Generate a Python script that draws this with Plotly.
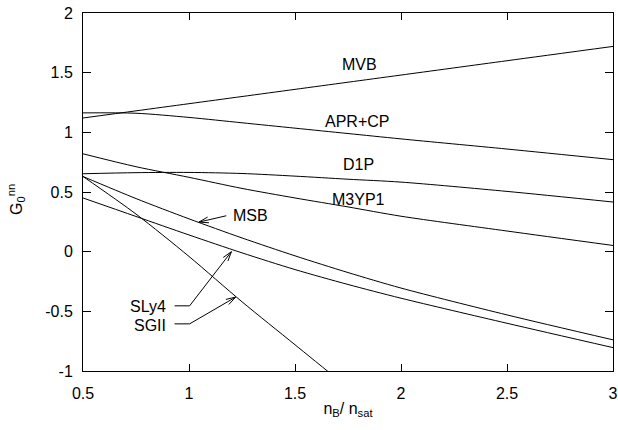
import math
import plotly.graph_objects as go

# ---------------- data ----------------
x_grid = [0.5, 0.75, 1.0, 1.25, 1.5, 1.75, 2.0, 2.5, 3.0]
mvb = [1.12, 1.18, 1.24, 1.30, 1.36, 1.42, 1.48, 1.60, 1.72]
apr_cp = [1.163, 1.16, 1.125, 1.08, 1.035, 0.99, 0.945, 0.86, 0.771]
d1p = [0.653, 0.662, 0.664, 0.655, 0.633, 0.607, 0.583, 0.505, 0.416]
m3yp1 = [0.82, 0.712, 0.623, 0.53, 0.45, 0.375, 0.297, 0.173, 0.052]
msb = [0.63, 0.445, 0.275, 0.115, -0.035, -0.175, -0.305, -0.53, -0.739]
sly4 = [0.45, 0.295, 0.14, -0.01, -0.15, -0.275, -0.39, -0.60, -0.804]
x_sgii = [0.5, 0.75, 1.0, 1.25, 1.5, 1.75]
sgii = [0.63, 0.315, -0.04, -0.42, -0.78, -1.14]

x_ticks = [0.5, 1, 1.5, 2, 2.5, 3]
x_tick_text = ["0.5", "1", "1.5", "2", "2.5", "3"]
y_ticks = [-1, -0.5, 0, 0.5, 1, 1.5, 2]
y_tick_text = ["-1", "-0.5", "0", "0.5", "1", "1.5", "2"]

# ---------------- layout geometry ----------------
W, H = 618, 430
ML, MR, MT, MB = 83, 5, 13, 59
XR = [0.5, 3.0]
YR = [-1.0, 2.0]
px_per_x = (W - ML - MR) / (XR[1] - XR[0])
px_per_y = (H - MT - MB) / (YR[1] - YR[0])

FONT = "Liberation Sans, Arial, sans-serif"
FS = 16

fig = go.Figure()
series = [
    (x_grid, mvb), (x_grid, apr_cp), (x_grid, d1p), (x_grid, m3yp1),
    (x_grid, msb), (x_grid, sly4), (x_sgii, sgii),
]
for xs, ys in series:
    fig.add_trace(go.Scatter(
        x=xs, y=ys, mode="lines",
        line=dict(color="black", width=1, shape="spline", smoothing=0.8),
        showlegend=False, hoverinfo="skip",
    ))

# curve labels
labels = [
    ("MVB", 1.803, 1.568, "center"),
    ("APR+CP", 1.792, 1.095, "center"),
    ("D1P", 1.799, 0.733, "center"),
    ("M3YP1", 1.799, 0.44, "center"),
    ("MSB", 1.20, 0.30, "left"),
    ("SLy4", 0.90, -0.458, "right"),
    ("SGII", 0.90, -0.62, "right"),
]
for txt, lx, ly, anc in labels:
    fig.add_annotation(x=lx, y=ly, xref="x", yref="y", text=txt,
                       showarrow=False, xanchor=anc, yanchor="middle",
                       font=dict(family=FONT, size=FS, color="black"))


def arrow(points, head_px=10, half_angle=17):
    """points: polyline in data coords, last point is the tip."""
    path = "M " + " L ".join(f"{px},{py}" for px, py in points)
    fig.add_shape(type="path", path=path, xref="x", yref="y",
                  line=dict(color="black", width=1))
    (x0, y0), (x1, y1) = points[-2], points[-1]
    dx = (x1 - x0) * px_per_x
    dy = (y1 - y0) * px_per_y
    ang = math.atan2(dy, dx)
    for s in (1, -1):
        a = ang + math.pi - s * math.radians(half_angle)
        wx = x1 + head_px * math.cos(a) / px_per_x
        wy = y1 + head_px * math.sin(a) / px_per_y
        fig.add_shape(type="line", x0=wx, y0=wy, x1=x1, y1=y1,
                      xref="x", yref="y", line=dict(color="black", width=1))


arrow([(1.176, 0.301), (1.047, 0.248)])
arrow([(0.932, -0.454), (1.003, -0.454), (1.20, 0.0)])
arrow([(0.932, -0.605), (1.003, -0.605), (1.22, -0.381)])

# y-axis title placed as a rotated annotation
fig.add_annotation(x=0, y=0.5, xref="paper", yref="paper",
                   text="G<sub>0</sub><sup>nn</sup>", textangle=-90,
                   showarrow=False, xanchor="center", yanchor="middle",
                   xshift=-67, yshift=-8,
                   font=dict(family=FONT, size=FS, color="black"))

axis_common = dict(
    showgrid=False, zeroline=False, showline=True, linecolor="black",
    linewidth=1, mirror="ticks", ticks="inside", tickcolor="black",
    tickwidth=1, tickfont=dict(family=FONT, size=FS, color="black"),
)
fig.update_xaxes(range=XR, tickvals=x_ticks, ticktext=x_tick_text,
                 ticklen=7, ticklabelstandoff=8,
                 title=dict(text="n<sub>B</sub>/ n<sub>sat</sub>",
                            font=dict(family=FONT, size=FS, color="black"),
                            standoff=1),
                 **axis_common)
fig.update_yaxes(range=YR, tickvals=y_ticks, ticktext=y_tick_text,
                 ticklen=8, ticklabelstandoff=6,
                 **axis_common)
fig.update_layout(
    width=W, height=H,
    margin=dict(l=ML, r=MR, t=MT, b=MB, autoexpand=False),
    paper_bgcolor="white", plot_bgcolor="white",
    font=dict(family=FONT, size=FS, color="black"),
)
# remove the default 8px page margin so the figure fills the window
fig.write_html("out.html", config={"displayModeBar": False},
               post_script="document.body.style.margin='0';")
